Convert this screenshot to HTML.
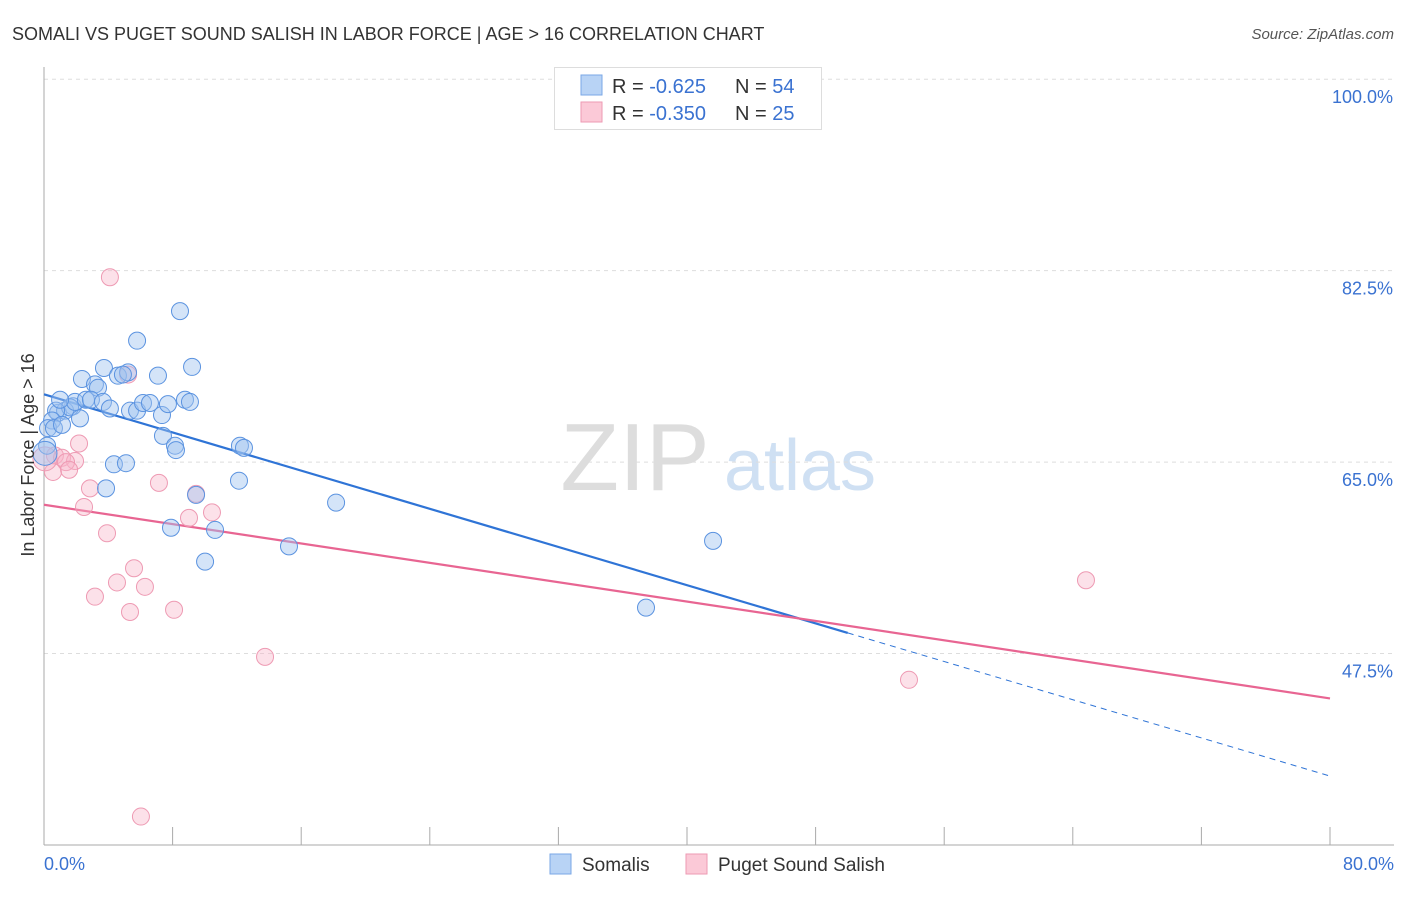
<!DOCTYPE html>
<html><head><meta charset="utf-8"><style>
body{margin:0;background:#fff;font-family:"Liberation Sans",sans-serif;}
svg text{font-family:"Liberation Sans",sans-serif;}
</style></head><body>
<svg id="chart" width="1406" height="892" xmlns="http://www.w3.org/2000/svg">
<text x="12" y="40" font-size="18" fill="#333">SOMALI VS PUGET SOUND SALISH IN LABOR FORCE | AGE &gt; 16 CORRELATION CHART</text>
<text x="1394" y="39" font-size="15" fill="#555" font-style="italic" text-anchor="end">Source: ZipAtlas.com</text>
<g>
<text x="635" y="490" font-size="96" font-family="Liberation Serif,serif" fill="#ddd" text-anchor="middle">ZIP</text>
<text x="800" y="490" font-size="72" fill="#cfe0f3" text-anchor="middle">atlas</text>
</g>
<g id="grid"></g>
<g id="axes"></g>
<g id="lines"></g>
<g id="points"></g>
<text transform="translate(34,455) rotate(-90)" font-size="18" fill="#333" text-anchor="middle">In Labor Force | Age &gt; 16</text>
<g>
<rect x="554.5" y="67.5" width="267" height="62" fill="#fff" stroke="#ddd"/>
<rect x="581" y="75" width="21" height="20" fill="#b8d3f5" stroke="#7aa7e6"/>
<rect x="581" y="102" width="21" height="20" fill="#fbc9d7" stroke="#ee9ab3"/>
<text x="612" y="93" font-size="20" fill="#333">R = <tspan fill="#3a72d1">-0.625</tspan><tspan x="735">N = </tspan><tspan fill="#3a72d1">54</tspan></text>
<text x="612" y="120" font-size="20" fill="#333">R = <tspan fill="#3a72d1">-0.350</tspan><tspan x="735">N = </tspan><tspan fill="#3a72d1">25</tspan></text>
</g>
<g>
<rect x="550" y="854" width="21" height="20" fill="#b8d3f5" stroke="#7aa7e6"/>
<text x="582" y="871" font-size="19" fill="#333">Somalis</text>
<rect x="686" y="854" width="21" height="20" fill="#fbc9d7" stroke="#ee9ab3"/>
<text x="718" y="871" font-size="19" fill="#333">Puget Sound Salish</text>
</g>
</svg>
<script>
const yTicks=[100,82.5,65,47.5];
const yTickLabels=["100.0%","82.5%","65.0%","47.5%"];
const xTicks=[0,8,16,24,32,40,48,56,64,72,80];
const somaliX=[8.46,5.79,3.73,9.21,2.36,4.6,5.23,7.09,3.17,3.36,4.91,1.8,0.87,1.31,1.62,1.93,2.61,2.92,3.67,4.1,5.35,5.79,6.16,6.59,7.34,7.71,8.77,9.08,0.75,0.5,0.25,0.62,1.12,2.24,7.4,8.15,8.21,12.19,12.44,4.35,5.1,3.86,9.46,7.9,10.64,12.13,10.02,15.24,18.17,41.62,37.45,0.19,1.0,0.06];
const somaliY=[78.8,76.1,73.6,73.7,72.6,72.9,73.2,72.9,72.1,71.8,73.0,70.1,69.5,69.7,70.0,70.5,70.7,70.7,70.5,69.9,69.7,69.7,70.4,70.4,69.3,70.3,70.7,70.5,69.7,68.8,68.1,68.1,68.4,69.0,67.4,66.5,66.1,66.5,66.3,64.8,64.9,62.6,62.0,59.0,58.8,63.3,55.9,57.3,61.3,57.8,51.7,66.5,70.7,65.8];
const salishX=[4.1,5.23,2.18,0.68,1.12,1.93,1.37,0.56,1.56,2.86,2.49,7.15,9.46,10.45,9.02,3.92,5.6,4.54,6.28,3.17,5.35,8.09,13.75,6.03,64.82,53.81,0.06];
const salishY=[81.9,73.0,66.7,65.6,65.4,65.1,65.0,64.1,64.3,62.6,60.9,63.1,62.1,60.4,59.9,58.5,55.3,54.0,53.6,52.7,51.3,51.5,47.2,32.6,54.2,45.1,65.3];
const somaliTrend=[71.2,36.3]; // at x=0 and x=80
const somaliSolidEnd=50;
const salishTrend=[61.1,43.4];
const NS="http://www.w3.org/2000/svg";
const X=v=>44+v*16.075;
const Y=v=>845-(v-30)*10.94;
function mk(tag,attrs,parent){const e=document.createElementNS(NS,tag);for(const k in attrs)e.setAttribute(k,attrs[k]);document.getElementById(parent).appendChild(e);return e;}
yTicks.forEach((t,i)=>{
 const g=mk('line',{x1:44,x2:1394,y1:Y(t),y2:Y(t),stroke:'#ddd','stroke-dasharray':'4,4'},'grid');
 
 
 const tx=mk('text',{x:1393,y:Y(t)+24,'font-size':18,fill:'#3a72d1','text-anchor':'end'},'axes');
 tx.textContent=yTickLabels[i];
 
 
});
const ax=mk('line',{x1:44,x2:44,y1:67,y2:845,stroke:'#aaa'},'axes');


const bx=mk('line',{x1:44,x2:1394,y1:845,y2:845,stroke:'#aaa'},'axes');


xTicks.forEach(t=>{
 const l=mk('line',{x1:X(t),x2:X(t),y1:827,y2:845,stroke:'#aaa'},'axes');
 
 
});
[[0,'0.0%','start',44],[80,'80.0%','end',1394]].forEach(a=>{
 const t=mk('text',{x:a[3],y:870,'font-size':18,fill:'#3a72d1','text-anchor':a[2]},'axes');
 t.textContent=a[1];
 
 
});
const lerp=(a,b,x)=>a+(b-a)*x/80;
let l1=mk('line',{x1:X(0),y1:Y(somaliTrend[0]),x2:X(somaliSolidEnd),y2:Y(lerp(somaliTrend[0],somaliTrend[1],somaliSolidEnd)),stroke:'#2f74d6','stroke-width':2.2},'lines');


let l2=mk('line',{x1:X(somaliSolidEnd),y1:Y(lerp(somaliTrend[0],somaliTrend[1],somaliSolidEnd)),x2:X(80),y2:Y(somaliTrend[1]),stroke:'#2f74d6','stroke-width':1,'stroke-dasharray':'6,5'},'lines');


let l3=mk('line',{x1:X(0),y1:Y(salishTrend[0]),x2:X(80),y2:Y(salishTrend[1]),stroke:'#e86592','stroke-width':2.2},'lines');


salishX.forEach((x,i)=>{
 const c=mk('circle',{cx:X(x),cy:Y(salishY[i]),r:(i==salishX.length-1)?12:8.5,fill:'rgba(248,180,200,0.4)',stroke:'#ee9ab3','stroke-width':1},'points');
 
 
});
somaliX.forEach((x,i)=>{
 const c=mk('circle',{cx:X(x),cy:Y(somaliY[i]),r:(i==somaliX.length-1)?12:8.5,fill:'rgba(160,195,240,0.45)',stroke:'#5b93e0','stroke-width':1},'points');
 
 
});
</script>
</body></html>
